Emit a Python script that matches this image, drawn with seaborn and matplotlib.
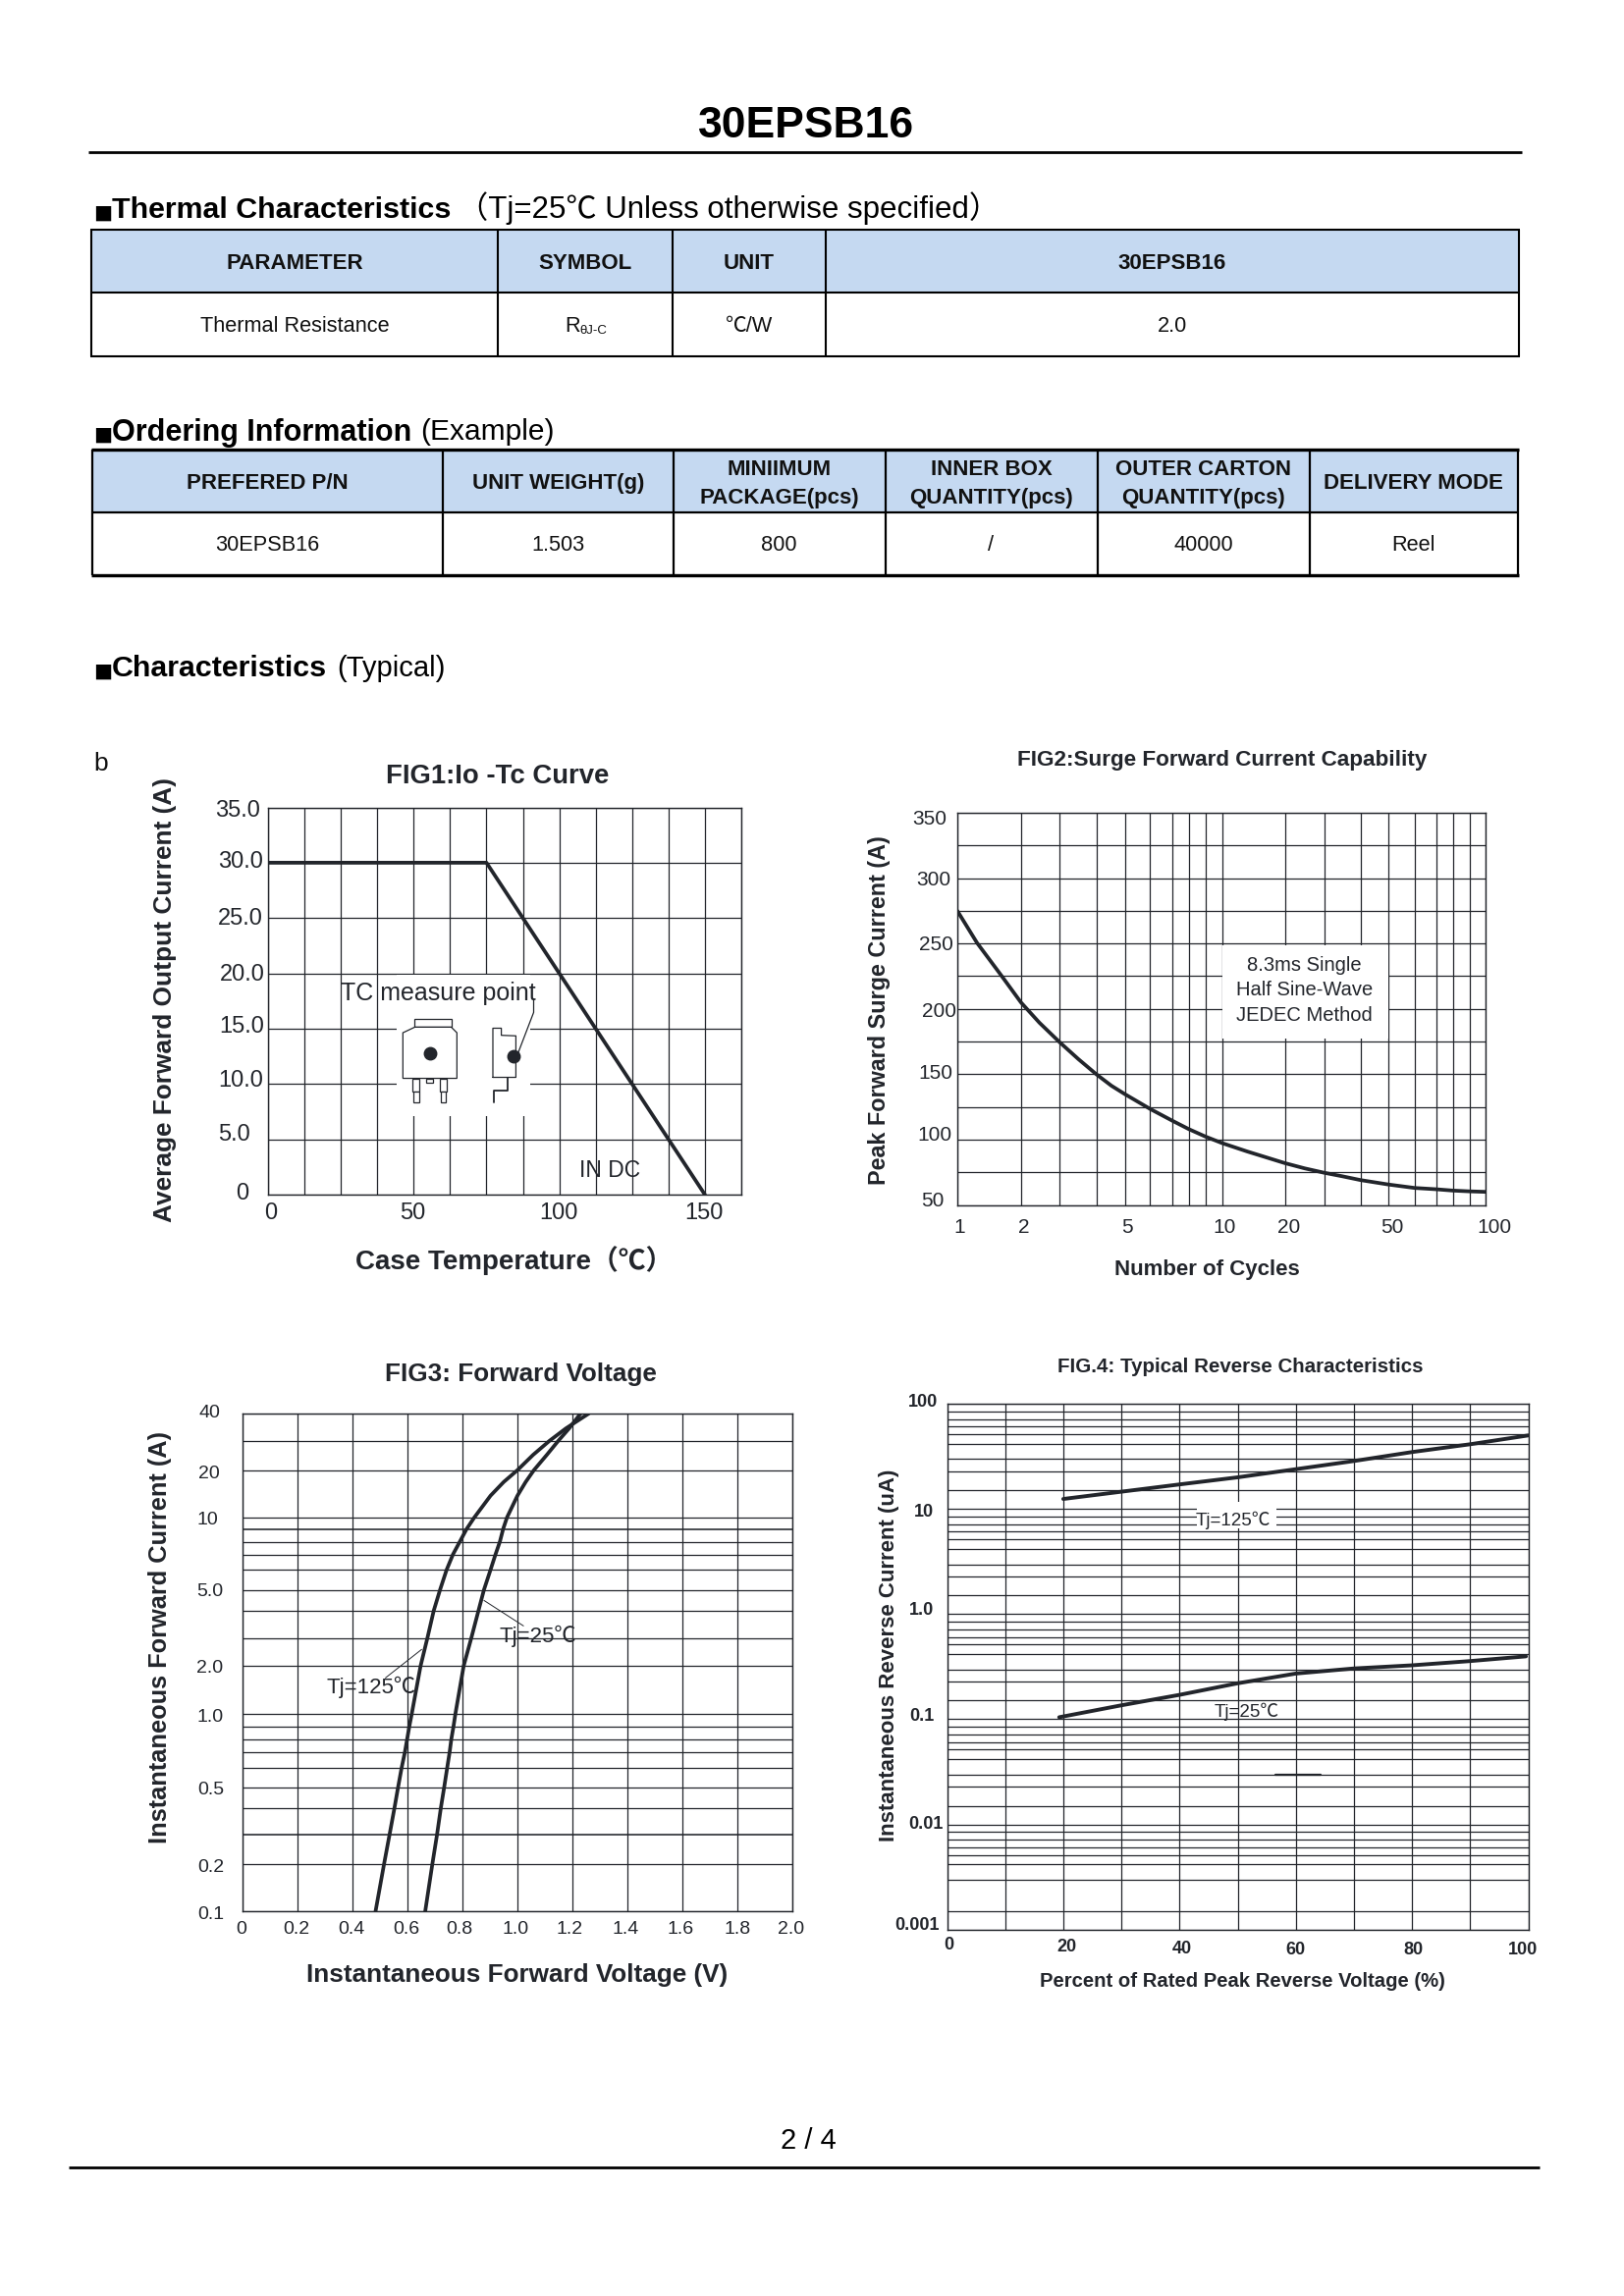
import numpy as np
import pandas as pd
import matplotlib
matplotlib.use('Agg')
import matplotlib.pyplot as plt
from matplotlib.patches import Rectangle, Polygon
from matplotlib.transforms import Affine2D
import seaborn as sns

# ============ Chart data ============
fig1_temp = [0, 75, 150]
fig1_current = [30, 30, 0]

fig2_cycles = [1, 1.31, 1.7, 2, 2.475, 3, 3.51, 4, 4.53, 5, 6, 7, 8, 9, 10, 14, 20, 25, 30, 35, 40, 50, 60, 70, 80, 90, 100]
fig2_surge = [275, 250.5, 225, 205, 189.4, 174.3, 161.5, 150, 141.2, 134.8, 123.4, 114.5, 108, 102.3, 97.3, 90.9, 82, 78, 74.6,
              71.9, 69, 65.6, 63, 62, 61, 60.4, 60]

fig3_current = [0.1, 0.2, 0.3, 0.4, 0.5, 0.6, 0.7, 0.8, 0.9, 1, 1.5, 2, 3, 4, 5, 6, 7, 8, 9, 10, 14.6, 17.5, 20, 25.2, 30, 34.5, 40]
fig3_v_125 = [0.483, 0.514, 0.534, 0.552, 0.565, 0.578, 0.59, 0.598, 0.606, 0.615, 0.631, 0.647, 0.672, 0.695, 0.718,
              0.742, 0.765, 0.79, 0.815, 0.843, 0.902, 0.95, 1.0, 1.057, 1.117, 1.176, 1.26]
fig3_v_25 = [0.664, 0.69, 0.707, 0.721, 0.733, 0.744, 0.753, 0.759, 0.767, 0.774, 0.789, 0.804, 0.832, 0.858, 0.878,
             0.902, 0.92, 0.936, 0.948, 0.962, 1.0, 1.03, 1.06, 1.107, 1.149, 1.188, 1.23]

fig4_pct_125 = [20, 30, 40, 50, 60, 70, 80, 90, 100]
fig4_i_125 = [15.4, 19.3, 23.2, 27, 32, 38.4, 44.7, 50, 59]
fig4_pct_25 = [19.3, 30, 40, 50, 60, 70, 80, 90, 99.6]
fig4_i_25 = [0.11, 0.174, 0.23, 0.292, 0.37, 0.41, 0.43, 0.457, 0.487]

# ============ Tick values and labels ============
fig1_xgrid = [0, 12.5, 25, 37.5, 50, 62.5, 75, 87.5, 100, 112.5, 125, 137.5, 150, 162.5]
fig1_xticks = [0, 50, 100, 150]
fig1_xnames = ['0', '50', '100', '150']
fig1_yticks = [0, 5, 10, 15, 20, 25, 30, 35]
fig1_ynames = ['0', '5.0', '10.0', '15.0', '20.0', '25.0', '30.0', '35.0']

fig2_xgrid = [1, 2, 3, 4, 5, 6, 7, 8, 9, 10, 20, 30, 40, 50, 60, 70, 80, 90, 100]
fig2_xticks = [1, 2, 5, 10, 20, 50, 100]
fig2_xnames = ['1', '2', '5', '10', '20', '50', '100']
fig2_ygrid = [50, 75, 100, 125, 150, 175, 200, 225, 250, 275, 300, 325, 350]
fig2_yticks = [50, 100, 150, 200, 250, 300, 350]
fig2_ynames = ['50', '100', '150', '200', '250', '300', '350']

fig3_xgrid = [0, 0.2, 0.4, 0.6, 0.8, 1.0, 1.2, 1.4, 1.6, 1.8, 2.0]
fig3_xnames = ['0', '0.2', '0.4', '0.6', '0.8', '1.0', '1.2', '1.4', '1.6', '1.8', '2.0']
fig3_ygrid = [0.1, 0.2, 0.3, 0.4, 0.5, 0.6, 0.7, 0.8, 0.9, 1, 2, 3, 4, 5, 6, 7, 8, 9, 10, 20, 30, 40]
fig3_yticks = [0.1, 0.2, 0.5, 1, 2, 5, 10, 20, 40]
fig3_ynames = ['0.1', '0.2', '0.5', '1.0', '2.0', '5.0', '10', '20', '40']

fig4_xgrid = [0, 10, 20, 30, 40, 50, 60, 70, 80, 90, 100]
fig4_xticks = [0, 20, 40, 60, 80, 100]
fig4_xnames = ['0', '20', '40', '60', '80', '100']
fig4_ygrid = [0.001, 0.002, 0.004, 0.005, 0.006, 0.007, 0.008, 0.009,
              0.01, 0.02, 0.03, 0.04, 0.05, 0.06, 0.07, 0.08, 0.09,
              0.1, 0.2, 0.3, 0.4, 0.5, 0.6, 0.7, 0.8, 0.9,
              1, 2, 3, 4, 5, 6, 7, 8, 9,
              10, 20, 30, 40, 50, 60, 70, 80, 90, 100]
fig4_yticks = [0.001, 0.01, 0.1, 1, 10, 100]
fig4_ynames = ['0.001', '0.01', '0.1', '1.0', '10', '100']

# ============ Table text ============
thermal_head = ['PARAMETER', 'SYMBOL', 'UNIT', '30EPSB16']
thermal_row = ['Thermal Resistance', '', '℃/W', '2.0']
order_head = ['PREFERED P/N', 'UNIT WEIGHT(g)', 'MINIIMUM\nPACKAGE(pcs)', 'INNER BOX\nQUANTITY(pcs)',
              'OUTER CARTON\nQUANTITY(pcs)', 'DELIVERY MODE']
order_row = ['30EPSB16', '1.503', '800', '/', '40000', 'Reel']

# ============ Drawn spacing of the hand made scales (not true log) ============
fig2_x_at = [235, 380, 469, 552, 617, 675, 725, 763, 801, 839, 982, 1072, 1155, 1219, 1278, 1327, 1365, 1403, 1441]
fig3_y_at = [-1330, -1219, -1150, -1087, -1039, -993, -956, -926, -896, -866, -754, -688, -624, -575, -528,
             -492, -462, -432, -405, -294, -225, -161]
fig4_y_at = [-1966.3, -1947.3, -1915.3, -1899.3, -1890.3, -1882.3, -1874.3, -1866.3,
             -1859.3, -1840.3, -1820.3, -1808.3, -1792.3, -1782.3, -1775.3, -1767.3, -1759.3,
             -1751.3, -1732.3, -1713.3, -1701.3, -1685.3, -1675.3, -1668.3, -1660.3, -1652.3,
             -1644.3, -1625.3, -1606.3, -1594.3, -1578.3, -1568.3, -1560.3, -1553.3, -1545.3,
             -1537.3, -1518.3, -1499.3, -1486.3, -1471.3, -1461.3, -1453.3, -1446.3, -1438.3, -1430.3]

# ============ Style ============
sns.set_theme(style='white')
FONTS = ['Liberation Sans', 'Noto Sans CJK SC', 'DejaVu Sans']
plt.rcParams['font.family'] = FONTS
plt.rcParams['axes.axisbelow'] = True
INK = '#22252b'
HEAD_BLUE = '#c5d9f1'
W, H = 1654, 2339

fig = plt.figure(figsize=(W / 100, H / 100), dpi=100, facecolor='white')
page = fig.add_axes([0, 0, 1, 1])
page.set_xlim(0, W)
page.set_ylim(H, 0)
page.axis('off')


def chart_axes(left, top, right, bottom):
    ax = fig.add_axes([left / W, 1 - bottom / H, (right - left) / W, (bottom - top) / H])
    ax.box_px = (left, top, right, bottom)
    for spine in ax.spines.values():
        spine.set_linewidth(1.0)
        spine.set_color(INK)
    return ax


def hand_scale(values, drawn):
    def forward(v):
        return np.interp(v, values, drawn)

    def inverse(p):
        return np.interp(p, drawn, values)
    return (forward, inverse)


def set_ticks(ax, which, grid, ticks, names, along, across, size, weight='normal'):
    labels = [names[ticks.index(g)] if g in ticks else '' for g in grid]
    axis = ax.xaxis if which == 'x' else ax.yaxis
    axis.set_ticks(grid, labels=labels)
    ax.tick_params(axis=which, length=0, pad=0, labelsize=size, labelcolor=INK)
    shown = [axis.get_major_ticks()[grid.index(t)].label1 for t in ticks]
    for lab, a, b in zip(shown, along, across):
        lab.set_fontweight(weight)
        lab.set_verticalalignment('center')
        if which == 'x':
            lab.set_transform(lab.get_transform() + Affine2D().translate(a, -b))
        else:
            lab.set_transform(lab.get_transform() + Affine2D().translate(-a, -b))


def set_texts(ax, title, t_xy, t_size, xlabel, x_xy, x_size, ylabel, y_xy, y_size):
    left, top, right, bottom = ax.box_px

    def frac(x, y):
        return (x - left) / (right - left), (bottom - y) / (bottom - top)
    tx, ty = frac(t_xy[0], t_xy[1] + 2.5)
    ax.set_title(title, x=tx, y=ty, fontsize=t_size, fontweight='bold', color=INK, va='center', pad=0)
    ax.set_xlabel(xlabel, fontsize=x_size, fontweight='bold', color=INK, va='center')
    ax.xaxis.set_label_coords(*frac(x_xy[0], x_xy[1] + 2))
    ax.set_ylabel(ylabel, fontsize=y_size, fontweight='bold', color=INK, va='center')
    ax.yaxis.set_label_coords(*frac(y_xy[0] + 2.5, y_xy[1]))


def grid_on(ax, lw=0.9):
    ax.grid(True, color=INK, linewidth=lw)


def curve(ax, x, y, lw=2.7):
    df = pd.DataFrame({'x': x, 'y': y})
    sns.lineplot(data=df, x='x', y='y', ax=ax, color=INK, linewidth=lw, estimator=None, sort=False,
                 solid_joinstyle='round', zorder=3)


def table(edges, top, mid, bottom, head, row, lw, size=16, outer=None):
    outer = outer or lw
    page.add_patch(Rectangle((edges[0], top), edges[-1] - edges[0], mid - top, fc=HEAD_BLUE, ec='none'))
    for x in edges:
        page.plot([x, x], [top, bottom], color='black', lw=lw, solid_capstyle='butt')
    page.plot([edges[0], edges[-1]], [mid, mid], color='black', lw=lw, solid_capstyle='butt')
    for y in (top, bottom):
        page.plot([edges[0] - 1, edges[-1] + 1], [y, y], color='black', lw=outer, solid_capstyle='butt')
    for i in range(len(head)):
        cx = (edges[i] + edges[i + 1]) / 2
        page.text(cx, (top + mid) / 2 + 3, head[i], ha='center', va='center', fontsize=size, fontweight='bold',
                  color='#111111', linespacing=1.5)
        page.text(cx, (mid + bottom) / 2 + 2, row[i], ha='center', va='center', fontsize=size - 0.3, color='#111111')


def section(y, bold, bold_size, rest, rest_x, rest_size):
    page.text(95, y + 0.5, '■', family='DejaVu Sans', fontsize=14.5, color='black', va='baseline')
    page.text(113.5, y, bold, fontsize=bold_size, fontweight='bold', color='black', va='baseline')
    page.text(rest_x, y, rest, fontsize=rest_size, color='black', va='baseline')


# ============ Page furniture ============
page.text(821, 129, '30EPSB16', ha='center', va='center', fontsize=32, fontweight='bold', color='black')
page.plot([90, 1550], [155, 155], color='black', lw=2, solid_capstyle='butt')
page.plot([70, 1568], [2208, 2208], color='black', lw=2, solid_capstyle='butt')
page.text(823, 2181, '2 / 4', ha='center', va='center', fontsize=21, color='black')
page.text(95, 778, 'b', va='center', fontsize=19, color='#111111')

section(222, 'Thermal Characteristics', 21.9, '（Tj=25℃ Unless otherwise specified）', 466, 22.5)
section(448.5, 'Ordering Information', 22, '(Example)', 428.5, 21.5)
section(689, 'Characteristics', 21.9, '(Typical)', 343, 21)

table([93, 507, 684.5, 841, 1547], 233.5, 298, 363, thermal_head, thermal_row, 1.5)
page.text(575, 338, 'R', fontsize=15.7, color='#111111', va='baseline')
page.text(590, 340, 'θJ-C', fontsize=9.5, color='#111111', va='baseline')
table([93.5, 450.5, 686, 901.5, 1117.5, 1333.5, 1546], 457.5, 521.5, 586, order_head, order_row, 1.6, outer=2.4)

# ============ FIG1 ============
ax1 = chart_axes(273, 822.5, 755, 1217)
curve(ax1, fig1_temp, fig1_current)
ax1.set_xlim(0, 162.5)
ax1.set_ylim(0, 35)
set_ticks(ax1, 'x', fig1_xgrid, fig1_xticks, fig1_xnames, [3, -1, -1, -1], [19.5] * 4, 17)
set_ticks(ax1, 'y', fig1_yticks, fig1_yticks, fig1_ynames,
          [20, 17.7, 5, 4.2, 3.4, 5, 5, 7.6], [-1, -4.7, -3, -1.5, 1, 1, -1, 4], 17)
grid_on(ax1)
set_texts(ax1, 'FIG1:Io -Tc Curve', (507, 789), 19.8, 'Case Temperature（℃）', (524, 1282), 20,
          'Average Forward Output Current (A)', (166, 1019), 18.9)
ax1.add_patch(Rectangle((44, 7.1), 46.1, 12.75, fc='white', ec='none', zorder=1.5))
ax1.text(58.5, 18.2, 'TC measure point', ha='center', va='center', fontsize=18, color=INK, zorder=4)
ax1.text(117.5, 2.2, 'IN DC', ha='center', va='center', fontsize=16.5, color=INK, zorder=4)
# package sketch, front and side view
pk = dict(color=INK, lw=0.9, zorder=3)
ax1.add_patch(Rectangle((50.4, 15.14), 12.5, 0.7, fc='white', ec=INK, lw=0.9, zorder=3))
ax1.add_patch(Polygon([(46.3, 10.51), (46.3, 14.63), (50.4, 15.14), (62.9, 15.14), (64.85, 14.63), (64.85, 10.51)],
                      closed=True, fc='white', ec=INK, lw=0.9, zorder=3))
ax1.add_patch(Rectangle((54.3, 10.13), 2.5, 0.38, fc='white', ec=INK, lw=0.9, zorder=3))
ax1.add_patch(Rectangle((49.7, 9.3), 2.2, 1.21, fc='white', ec=INK, lw=0.9, zorder=3))
ax1.add_patch(Rectangle((50.0, 8.35), 1.8, 0.95, fc='white', ec=INK, lw=0.9, zorder=3))
ax1.add_patch(Rectangle((59.0, 9.3), 2.4, 1.21, fc='white', ec=INK, lw=0.9, zorder=3))
ax1.add_patch(Rectangle((59.3, 8.35), 1.8, 0.95, fc='white', ec=INK, lw=0.9, zorder=3))
ax1.plot(55.6, 12.76, 'o', ms=9, color=INK, zorder=4)
ax1.plot([77.2, 77.2, 80.1, 80.1, 85.1, 85.1, 77.2], [10.6, 15.04, 15.04, 14.4, 14.35, 10.6, 10.6], **pk)
ax1.plot([82.3, 82.3, 77.4, 77.4], [10.6, 9.44, 9.44, 8.35], color=INK, lw=1.3, zorder=3)
ax1.plot(84.3, 12.48, 'o', ms=9, color=INK, zorder=4)
ax1.plot([85.9, 91.2, 91.2], [12.83, 16.47, 17.7], **pk)

# ============ FIG2 ============
ax2 = chart_axes(975, 828, 1513.5, 1227.5)
ax2.set_xscale('function', functions=hand_scale(fig2_xgrid, fig2_x_at))
curve(ax2, fig2_cycles, fig2_surge)
ax2.set_xlim(1, 100)
ax2.set_ylim(50, 350)
set_ticks(ax2, 'x', fig2_xgrid, fig2_xticks, fig2_xnames, [2, 3.5, 2, 2.7, 4.5, 3, 8.5], [23.5] * 7, 15)
set_ticks(ax2, 'y', fig2_ygrid, fig2_yticks, fig2_ynames,
          [13.4, 5.8, 4.5, 1.3, 4.5, 6.7, 11], [-3.7, -4.8, -1, 2.5, 1, 1.7, 6.5], 15)
grid_on(ax2)
set_texts(ax2, 'FIG2:Surge Forward Current Capability', (1245, 772), 16.2, 'Number of Cycles', (1229, 1291), 16,
          'Peak Forward Surge Current (A)', (893, 1029), 16.8)
ax2.add_patch(Rectangle((10, 177), 40, 71.5, fc='white', ec='none', zorder=1.5))
ax2.text(25, 214.2, '8.3ms Single\nHalf Sine-Wave\nJEDEC Method', ha='center', va='center', fontsize=14.5, color=INK,
         linespacing=1.45, zorder=4)

# ============ FIG3 ============
ax3 = chart_axes(247.5, 1440, 806.5, 1947)
ax3.set_yscale('function', functions=hand_scale(fig3_ygrid, fig3_y_at))
curve(ax3, fig3_v_125, fig3_current)
curve(ax3, fig3_v_25, fig3_current)
ax3.set_xlim(0, 2)
ax3.set_ylim(0.1, 40)
set_ticks(ax3, 'x', fig3_xgrid, fig3_xgrid, fig3_xnames,
          [-1.4, -1.4, -1.4, -1.8, -2.8, -2.3, -3.2, -1.8, -1.4, 0, -0.9], [18.5] * 11, 14)
set_ticks(ax3, 'y', fig3_ygrid, fig3_yticks, fig3_ynames,
          [18.8, 18.8, 18.8, 20, 20, 20, 25.7, 23.4, 23.4], [3.2, 3.2, 2.7, 4, 2.7, 2.3, 3, 3.6, -0.7], 14)
grid_on(ax3)
for i in (fig3_ygrid.index(0.3), fig3_ygrid.index(9)):
    ax3.yaxis.get_gridlines()[i].set_linewidth(1.15)
set_texts(ax3, 'FIG3: Forward Voltage', (530, 1398), 18.8, 'Instantaneous Forward Voltage (V)', (527, 2010.5), 18.8,
          'Instantaneous Forward Current (A)', (161, 1668.5), 18.3)
ax3.text(0.467, 1.55, 'Tj=125℃', ha='center', va='center', fontsize=16, color=INK, zorder=4)
ax3.text(1.075, 3.05, 'Tj=25℃', ha='center', va='center', fontsize=16, color=INK, zorder=4)
ax3.plot([0.519, 0.651], [1.75, 2.59], color=INK, lw=0.7, zorder=3)
ax3.plot([1.022, 0.878], [3.44, 4.49], color=INK, lw=0.7, zorder=3)

# ============ FIG4 ============
ax4 = chart_axes(964.5, 1430.3, 1556.5, 1966.3)
ax4.set_yscale('function', functions=hand_scale(fig4_ygrid, fig4_y_at))
curve(ax4, fig4_pct_125, fig4_i_125, lw=2.8)
curve(ax4, fig4_pct_25, fig4_i_25, lw=2.8)
ax4.set_xlim(0, 100)
ax4.set_ylim(0.001, 100)
set_ticks(ax4, 'x', fig4_xgrid, fig4_xticks, fig4_xnames, [2.2, 4, 2.2, -0.4, 1.8, -5.4],
          [15.3, 17, 19.6, 20.5, 20.5, 20.5], 13, weight='bold')
set_ticks(ax4, 'y', fig4_ygrid, fig4_yticks, fig4_ynames, [7.6, 4, 13, 13, 13.8, 9.8],
          [-4.6, -0.3, -2.5, -3.8, 3, -2], 13, weight='bold')
grid_on(ax4)
set_texts(ax4, 'FIG.4: Typical Reverse Characteristics', (1263, 1390), 14.8,
          'Percent of Rated Peak Reverse Voltage (%)', (1265, 2017), 14.6,
          'Instantaneous Reverse Current (uA)', (903, 1686), 16)
ax4.add_patch(Rectangle((43, 7.5), 13.7, 6.3, fc='white', ec='none', zorder=1.5))
ax4.text(49.3, 8.6, 'Tj=125℃', ha='center', va='center', fontsize=13.5, color=INK, zorder=4)
ax4.text(51.5, 0.14, 'Tj=25℃', ha='center', va='center', fontsize=13.5, color=INK, zorder=4)
ax4.plot([56.5, 64.3], [0.04, 0.04], color=INK, lw=1.6, zorder=3)

fig.savefig('out.png', dpi=100, facecolor='white')
